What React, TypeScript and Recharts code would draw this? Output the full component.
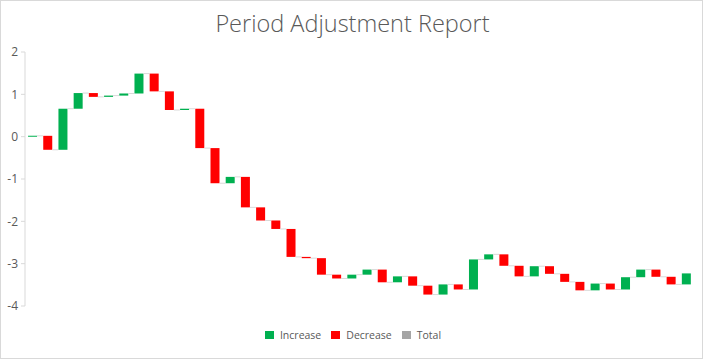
import { Bar, BarChart, Cell, Legend, XAxis, YAxis } from "recharts";

const periods = [
  "P01", "P02", "P03", "P04", "P05", "P06", "P07", "P08", "P09", "P10", "P11",
  "P12", "P13", "P14", "P15", "P16", "P17", "P18", "P19", "P20", "P21", "P22",
  "P23", "P24", "P25", "P26", "P27", "P28", "P29", "P30", "P31", "P32", "P33",
  "P34", "P35", "P36", "P37", "P38", "P39", "P40", "P41", "P42", "P43", "P44",
];

// per-period change
const changes = [
  0.02, -0.33, 0.97, 0.37, -0.09, 0.03, 0.05, 0.47, -0.42, -0.44, 0.03,
  -0.93, -0.83, 0.15, -0.72, -0.31, -0.2, -0.66, -0.03, -0.39, -0.09, 0.09,
  0.12, -0.3, 0.14, -0.22, -0.21, 0.24, -0.12, 0.71, 0.12, -0.27, -0.25,
  0.24, -0.18, -0.19, -0.2, 0.16, -0.14, 0.29, 0.18, -0.17, -0.18, 0.26,
];

const yTicks = [-4, -3, -2, -1, 0, 1, 2];

const legendItems = [
  { name: "Increase", color: "#00B050" },
  { name: "Decrease", color: "#FF0000" },
  { name: "Total", color: "#A5A5A5" },
];

const INCREASE = "#00B050";
const DECREASE = "#FF0000";
const CONNECTOR = "#D9D9D9";
const TEXT = "#595959";
const CATEGORY_GAP = 0.2;

type Row = {
  period: string;
  delta: number;
  start: number;
  end: number;
  range: [number, number];
  last: boolean;
};

function buildRows(): Row[] {
  let running = 0;
  return periods.map((p, i) => {
    const start = running;
    const end = Math.round((running + changes[i]) * 100) / 100;
    running = end;
    return {
      period: p,
      delta: changes[i],
      start,
      end,
      range: [Math.min(start, end), Math.max(start, end)],
      last: i === periods.length - 1,
    };
  });
}

const rows = buildRows();

function StepBar(props: any) {
  const { x, y, width, height, fill, payload } = props;
  const top = Math.min(y, y + height);
  let h = Math.abs(height);
  let rectTop = top;
  if (h < 1) {
    rectTop = top - (1 - h) / 2;
    h = 1;
  }
  // gap between bars follows from barCategoryGap on both sides of the band
  const gap = (width * 2 * CATEGORY_GAP) / (1 - 2 * CATEGORY_GAP);
  const endY = payload.delta >= 0 ? top : top + Math.abs(height);
  return (
    <g>
      <rect x={x} y={rectTop} width={width} height={h} fill={fill} />
      {!payload.last && (
        <line
          x1={x + width}
          x2={x + width + gap}
          y1={endY}
          y2={endY}
          stroke={CONNECTOR}
          strokeWidth={1}
        />
      )}
    </g>
  );
}

function LegendBox() {
  return (
    <div
      style={{
        height: 37,
        boxSizing: "border-box",
        paddingTop: 21,
        display: "flex",
        justifyContent: "center",
        alignItems: "center",
        fontFamily: "'Open Sans', sans-serif",
        fontSize: 10.5,
        color: TEXT,
        paddingLeft: 22,
      }}
    >
      {legendItems.map((it) => (
        <div key={it.name} style={{ display: "flex", alignItems: "center", marginRight: 10, height: 16 }}>
          <span
            style={{
              width: 9,
              height: 8,
              background: it.color,
              display: "inline-block",
              marginRight: 6,
            }}
          />
          <span>{it.name}</span>
        </div>
      ))}
    </div>
  );
}

export default function App() {
  return (
    <div
      style={{
        position: "absolute",
        left: 0,
        top: 0,
        width: 703,
        height: 359,
        boxSizing: "border-box",
        border: "1px solid #D9D9D9",
        background: "#fff",
      }}
    >
      <div
        style={{
          position: "absolute",
          top: 7,
          left: 0,
          width: 703,
          textAlign: "center",
          fontFamily: "'Open Sans', sans-serif",
          fontWeight: 300,
          fontSize: 23.5,
          lineHeight: "31px",
          color: TEXT,
        }}
      >
        Period Adjustment Report
      </div>
      <div style={{ position: "absolute", left: -1, top: -1 }}>
        <BarChart
          width={703}
          height={359}
          data={rows}
          margin={{ top: 52, right: 9, left: 0, bottom: 16 }}
          barCategoryGap={`${CATEGORY_GAP * 100}%`}
        >
          <XAxis dataKey="period" hide />
          <YAxis
            width={25}
            domain={[-4, 2]}
            ticks={yTicks}
            interval={0}
            axisLine={{ stroke: CONNECTOR }}
            tickLine={{ stroke: CONNECTOR }}
            tickSize={4}
            tickMargin={3}
            tick={{ fontSize: 12, fill: TEXT, fontFamily: "'Open Sans', sans-serif" }}
          />
          <Legend verticalAlign="bottom" content={<LegendBox />} />
          <Bar dataKey="range" shape={<StepBar />} isAnimationActive={false}>
            {rows.map((r) => (
              <Cell key={r.period} fill={r.delta >= 0 ? INCREASE : DECREASE} />
            ))}
          </Bar>
        </BarChart>
      </div>
    </div>
  );
}
